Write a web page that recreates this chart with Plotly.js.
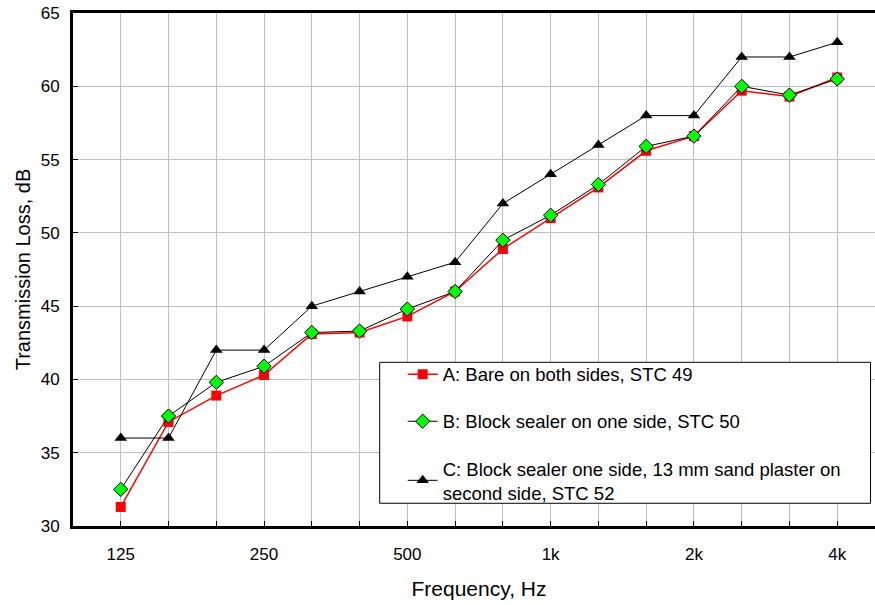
<!DOCTYPE html>
<html><head><meta charset="utf-8">
<script src="https://cdn.plot.ly/plotly-3.0.1.min.js"></script>
<style>html,body{margin:0;padding:0;overflow:hidden;background:#fff}#chart{width:890px;height:605px}</style>
</head><body><div id="chart"></div>
<script>
// One-third-octave band centre frequencies (Hz)
const bands = ["125","160","200","250","315","400","500","630","800","1000","1250","1600","2000","2500","3150","4000"];
const tickLabels = ["125","","","250","","","500","","","1k","","","2k","","","4k"];

const nameA = "A: Bare on both sides, STC 49";
const nameB = "B: Block sealer on one side, STC 50";
const nameC = "C: Block sealer one side, 13 mm sand plaster on<br>second side, STC 52";

const seriesA = [31.3, 37.1, 38.9, 40.3, 43.1, 43.2, 44.3, 46.0, 48.9, 51.0, 53.1, 55.6, 56.6, 59.7, 59.3, 60.6];
const seriesB = [32.5, 37.5, 39.8, 40.9, 43.2, 43.3, 44.8, 46.0, 49.5, 51.2, 53.3, 55.9, 56.6, 60.0, 59.4, 60.5];
const seriesC = [36, 36, 42, 42, 45, 46, 47, 48, 52, 54, 56, 58, 58, 62, 62, 63];

const tickFont = {family: "'Liberation Sans Narrow', 'Arial Narrow', 'Liberation Sans', Arial, sans-serif", size: 17, color: "#000"};
const textFont = "'Liberation Sans', Arial, sans-serif";

const traces = [
  {x: bands, y: seriesA, name: nameA, legendgroup: "a", type: "scatter", mode: "lines+markers",
   line: {color: "#ff0000", width: 1.5},
   marker: {symbol: "square", size: 10, color: "#ff0000", line: {width: 0}}},
  {x: bands, y: seriesB, name: nameB, legendgroup: "b", type: "scatter", mode: "lines+markers",
   line: {color: "#000000", width: 1},
   marker: {symbol: "diamond", size: 11, color: "#00ff00", line: {color: "#000", width: 1}}},
  {x: bands, y: seriesC, name: nameC, legendgroup: "c", type: "scatter", mode: "lines+markers",
   line: {color: "#000000", width: 1},
   marker: {symbol: "triangle-up", size: 11, color: "#000000", line: {width: 0}}}
];

const layout = {
  width: 890, height: 605,
  margin: {l: 73, r: 5, t: 13, b: 79},
  paper_bgcolor: "#fff", plot_bgcolor: "#fff",
  showlegend: true,
  legend: {
    x: 0.3777, xanchor: "left", y: 0.332, yanchor: "top",
    bgcolor: "rgba(0,0,0,0)", borderwidth: 0,
    font: {family: textFont, size: 18.5, color: "#000"},
    traceorder: "grouped", tracegroupgap: 20, indentation: 23
  },
  shapes: [{
    type: "rect", xref: "paper", yref: "paper", layer: "above",
    x0: 0.3777, x1: 0.9822, y0: 0.0443, y1: 0.3191,
    fillcolor: "#fff", line: {color: "#000", width: 1}
  }],
  xaxis: {
    type: "category", range: [-1, 16],
    tickmode: "array", tickvals: bands, ticktext: tickLabels,
    ticks: "inside", ticklen: 5, tickwidth: 1, tickcolor: "#000",
    showgrid: true, gridcolor: "#c0c0c0", gridwidth: 1,
    showline: true, linecolor: "#000", linewidth: 3, mirror: true,
    zeroline: false, tickfont: tickFont, ticklabelstandoff: 11,
    title: {text: "Frequency, Hz", font: {family: textFont, size: 21, color: "#000"}, standoff: 18},
    automargin: false, fixedrange: true
  },
  yaxis: {
    range: [30, 65], dtick: 5, tick0: 30,
    ticks: "inside", ticklen: 5, tickwidth: 1, tickcolor: "#000",
    showgrid: true, gridcolor: "#c0c0c0", gridwidth: 1,
    showline: true, linecolor: "#000", linewidth: 3, mirror: true,
    zeroline: false, tickfont: tickFont, ticklabelstandoff: 7,
    title: {text: "Transmission Loss, dB", font: {family: textFont, size: 20, color: "#000"}, standoff: 5},
    automargin: false, fixedrange: true
  }
};

Plotly.newPlot("chart", traces, layout, {displayModeBar: false, staticPlot: true});
</script>
</body></html>
